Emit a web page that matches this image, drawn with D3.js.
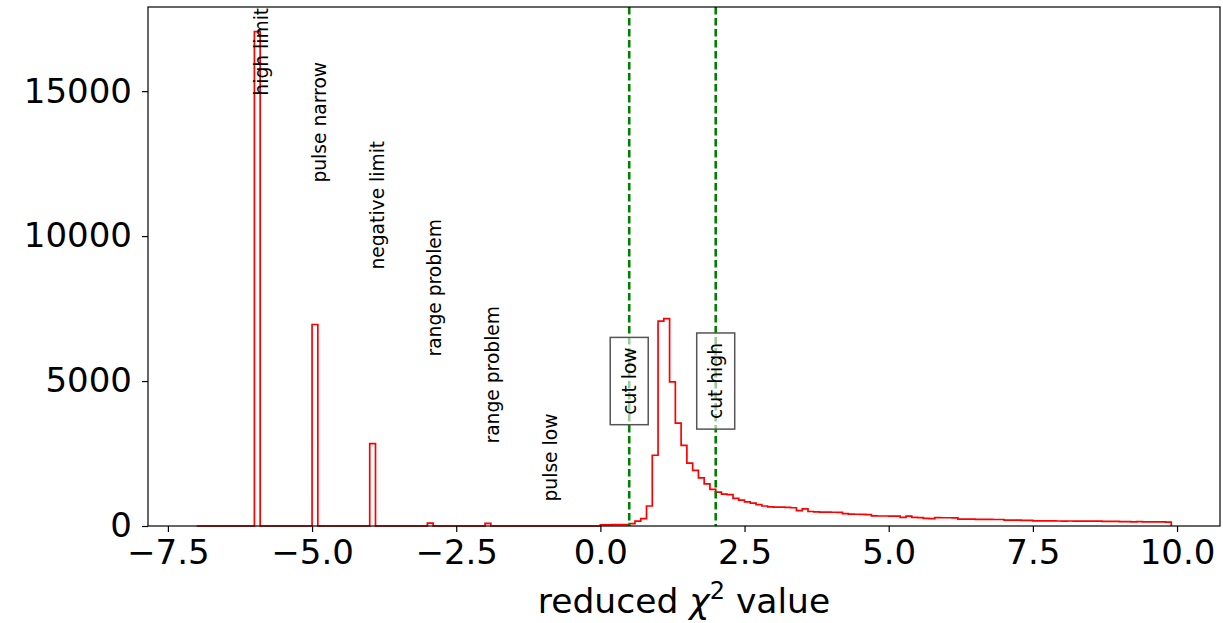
<!DOCTYPE html>
<html lang="en">
  <head>
    <meta charset="UTF-8" />
    <title>Reduced chi2 histogram</title>
    <script src="https://d3js.org/d3.v7.min.js"></script>
    <style>
      body {
        margin: 0;
        background-color: #fff;
        font-family: "DejaVu Sans", sans-serif;
      }
      .tick-label {
        font-size: 34px;
        fill: #000;
      }
      .note {
        font-size: 18.7px;
        fill: #000;
      }
    </style>
  </head>
  <body>
    <div class="chart"></div>

    <script>
      // histogram bins: start at -7.0, width 0.1
      const binStart = -7.0;
      const binWidth = 0.1;
      const counts = [
        0, 0, 0, 0, 0, 0, 0, 0, 0, 0,
        17050, 0, 0, 0, 0, 0, 0, 0, 0, 0,
        6950, 0, 0, 0, 0, 0, 0, 0, 0, 0,
        2840, 0, 0, 0, 0, 0, 0, 0, 0, 0,
        100, 0, 0, 0, 0, 0, 0, 0, 0, 0,
        90, 0, 0, 0, 0, 0, 0, 0, 0, 0,
        0, 0, 0, 0, 0, 0, 0, 0, 0, 0,
        40, 40, 45, 45, 50, 80, 170, 255, 690, 2440,
        7070, 7150, 4970, 3550, 2780, 2170, 1920, 1660, 1450, 1260,
        1170, 1100, 1080, 950, 890, 830, 790, 740, 690, 660,
        650, 650, 640, 630, 530, 590, 500, 490, 480, 480,
        475, 470, 430, 410, 405, 400, 395, 350, 345, 345,
        340, 340, 295, 340, 295, 290, 260, 255, 290, 285,
        285, 280, 240, 235, 235, 230, 230, 230, 225, 225,
        205, 200, 200, 195, 195, 180, 178, 175, 180, 172,
        170, 172, 168, 170, 165, 168, 165, 162, 160, 162,
        150, 148, 145, 150, 142, 145, 140, 142, 135,
      ];

      const noteLabels = ["high limit", "pulse narrow", "negative limit", "range problem", "range problem", "pulse low"];
      const noteX = [-6, -5, -4, -3, -2, -1];
      const noteY = [15000, 12000, 9000, 6000, 3000, 1000];

      const cutLabels = ["cut low", "cut high"];
      const cutValues = [0.5, 2.0];
      const cutLabelY = 5000;

      const xTicks = [-7.5, -5, -2.5, 0, 2.5, 5, 7.5, 10];
      const yTicks = [0, 5000, 10000, 15000];

      const W = 1223, H = 623;
      const margin = { top: 7, right: 3, bottom: 97, left: 148 };
      const width = W - margin.left - margin.right,
        height = H - margin.top - margin.bottom;

      const svg = d3
        .select(".chart")
        .append("svg")
        .attr("width", W)
        .attr("height", H)
        .append("g")
        .attr("transform", `translate(${margin.left},${margin.top})`);

      const edges = d3.range(counts.length + 1).map((i) => binStart + i * binWidth);
      const xMin = edges[0], xMax = edges[edges.length - 1];
      const pad = (xMax - xMin) * 0.05;

      const x = d3.scaleLinear().domain([xMin - pad, xMax + pad]).range([0, width]);
      const y = d3
        .scaleLinear()
        .domain([0, d3.max(counts) * 1.05])
        .range([height, 0]);

      // step outline
      const pts = [[edges[0], 0]];
      counts.forEach((c, i) => {
        pts.push([edges[i], c]);
        pts.push([edges[i + 1], c]);
      });
      pts.push([xMax, 0]);

      const line = d3
        .line()
        .x((d) => x(d[0]))
        .y((d) => y(d[1]));

      svg
        .append("path")
        .attr("d", line(pts))
        .attr("fill", "none")
        .attr("stroke", "#ff0000")
        .attr("stroke-width", 1.7)
        .attr("stroke-linejoin", "miter");

      // cut lines
      svg
        .selectAll(".cut")
        .data(cutValues)
        .enter()
        .append("line")
        .attr("x1", (d) => x(d))
        .attr("x2", (d) => x(d))
        .attr("y1", 0)
        .attr("y2", height)
        .attr("stroke", "#008000")
        .attr("stroke-width", 2.6)
        .attr("stroke-dasharray", "7.6,3.4");

      // annotations
      svg
        .selectAll(".note")
        .data(noteLabels)
        .enter()
        .append("text")
        .attr("class", "note")
        .attr("transform", (d, i) => `translate(${x(noteX[i]) + 14},${y(noteY[i]) + 4.5}) rotate(-90)`)
        .text((d) => d);

      // boxed cut labels
      cutLabels.forEach((lab, i) => {
        const g = svg
          .append("g")
          .attr("transform", `translate(${x(cutValues[i])},${y(cutLabelY)}) rotate(-90)`);
        const t = g
          .append("text")
          .attr("class", "note")
          .attr("text-anchor", "middle")
          .attr("dominant-baseline", "central")
          .text(lab);
        const bb = t.node().getBBox();
        g.insert("rect", "text")
          .attr("x", bb.x - 10)
          .attr("y", -19)
          .attr("width", bb.width + 20)
          .attr("height", 38)
          .attr("fill", "#fff")
          .attr("fill-opacity", 0.6)
          .attr("stroke", "#555")
          .attr("stroke-width", 1.5);
      });

      // axes
      const xAxis = svg
        .append("g")
        .attr("transform", `translate(0,${height})`)
        .call(d3.axisBottom(x).tickValues(xTicks).tickFormat(d3.format(".1f")).tickSize(6).tickPadding(8));
      const yAxis = svg
        .append("g")
        .call(d3.axisLeft(y).tickValues(yTicks).tickFormat(d3.format("d")).tickSize(6).tickPadding(10));

      [xAxis, yAxis].forEach((a) => {
        a.select(".domain").remove();
        a.selectAll(".tick line").attr("stroke", "#000").attr("stroke-width", 1.2);
        a.selectAll(".tick text")
          .attr("class", "tick-label")
          .style("font-family", "'DejaVu Sans', sans-serif");
      });

      // frame
      svg
        .append("rect")
        .attr("width", width)
        .attr("height", height)
        .attr("fill", "none")
        .attr("stroke", "#000")
        .attr("stroke-width", 1.2);

      // x label
      const xl = svg
        .append("text")
        .attr("x", width / 2)
        .attr("y", height + 87)
        .attr("text-anchor", "middle")
        .style("font-size", "34.5px")
        .attr("fill", "#000");
      xl.append("tspan").text("reduced ");
      xl.append("tspan").attr("font-style", "italic").text("χ");
      xl.append("tspan").attr("baseline-shift", "super").style("font-size", "24px").text("2");
      xl.append("tspan").text(" value");
    </script>
  </body>
</html>
